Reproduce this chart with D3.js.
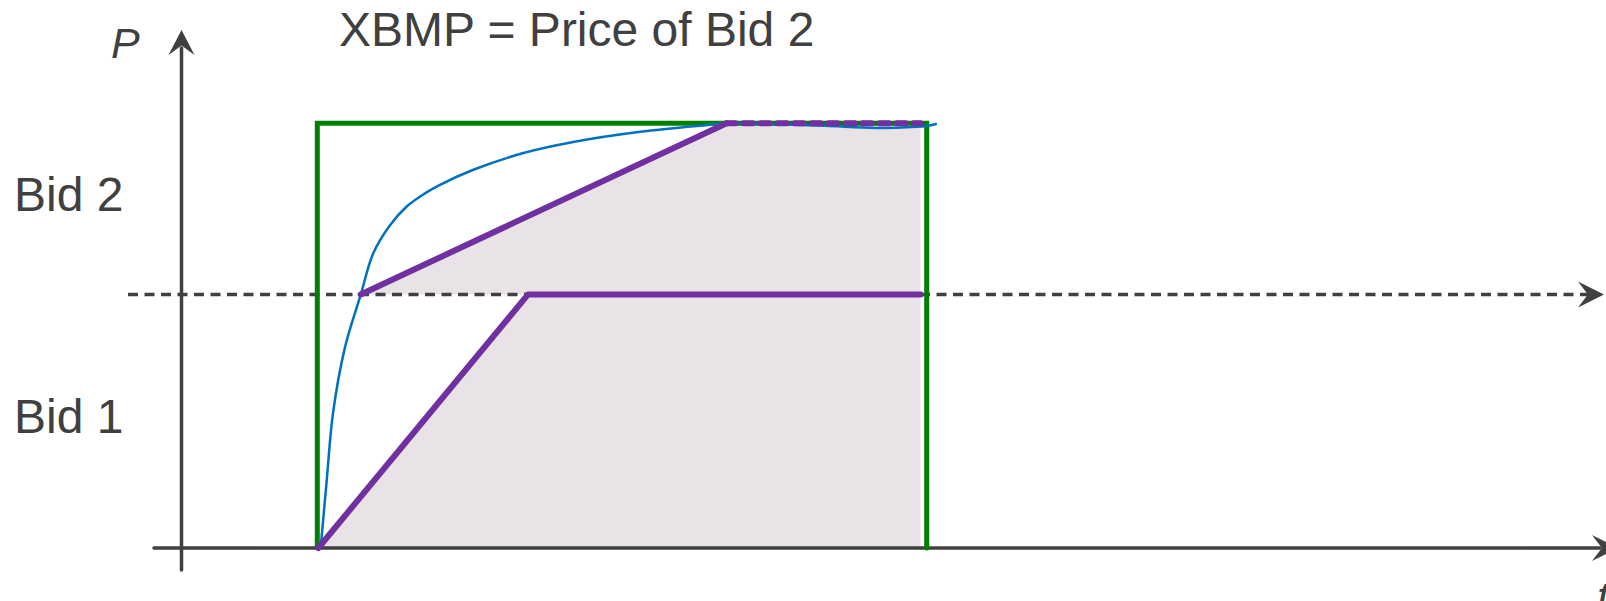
<!DOCTYPE html>
<html>
<head>
<meta charset="utf-8">
<script src="https://cdn.jsdelivr.net/npm/d3@7"></script>
<style>
    body { margin: 0; background: #fff; }
    text { font-family: 'Liberation Sans', Arial, sans-serif; fill: #404040; }
</style>
</head>
<body>
<svg id="chart"></svg>
<script>
//bid names and price levels (P units, Bid 2 = 100)
var bidNames = ['Bid 1', 'Bid 2'];
var bidPrices = [59.7, 100];

//dispatch interval (t units)
var intervalStart = 0;
var intervalEnd = 60;

//green square wave of the interval
var intervalLine = [[0, 0], [0, 100], [60, 100], [60, 0]];

//purple ramps of each bid
var bid1Line = [[0.1, 0], [20.75, 59.7], [59.4, 59.7]];
var bid2Line = [[4.27, 59.7], [40.3, 100]];
var bid2Flat = [[40.3, 100], [59.4, 100]];

//blue price curve
var priceCurve = [
    [0.33, 0], [0.93, 16], [1.55, 31.8], [2.73, 47.3], [4.27, 59.6],
    [5.51, 69.4], [7.16, 76.0], [8.80, 80.4], [10.4, 83.2], [12.08, 85.5],
    [15.3, 89.0], [20.3, 93.0], [25.2, 95.6], [31.8, 98.0], [38.4, 99.6],
    [40.3, 100], [45, 99.8], [50, 99.4], [55, 98.9], [58.5, 99.1],
    [60.3, 99.5], [61, 99.9]
];

var titleText = 'XBMP = Price of Bid 2';

var width = 1606,
    height = 601;

var svg = d3.select('#chart')
    .attr('width', width)
    .attr('height', height);

var x = d3.scaleLinear()
    .domain([intervalStart, intervalEnd])
    .range([317.3, 926.7]);

var y = d3.scaleLinear()
    .domain([0, 100])
    .range([548, 123.3]);

var axisColor = '#404040';
var yAxisX = 181.5;

//stealth arrow head pointing along angle (radians), tip at (tx, ty)
function arrowHead(tx, ty, angle, len, wid) {
    var c = Math.cos(angle), s = Math.sin(angle);
    function pt(a, b) {
        return [tx + a * c - b * s, ty + a * s + b * c];
    }
    var p = [pt(0, 0), pt(-len, -wid / 2), pt(-len * 0.62, 0), pt(-len, wid / 2)];
    return 'M' + p.map(function(d) {return d.join(',');}).join('L') + 'Z';
}

//shaded cleared area
var areaGen = d3.area()
    .x(function(d) {return x(d[0]);})
    .y1(function(d) {return y(d[1]);});

svg.append('path')
    .datum(bid1Line)
    .attr('d', areaGen.y0(y(0)))
    .attr('fill', '#e9e3e8');

svg.append('path')
    .datum(bid2Line.concat(bid2Flat.slice(1)))
    .attr('d', areaGen.y0(y(bidPrices[0])))
    .attr('fill', '#e9e3e8');

//axes
svg.append('line')
    .attr('x1', 154)
    .attr('x2', 1600)
    .attr('y1', y(0))
    .attr('y2', y(0))
    .attr('stroke', axisColor)
    .attr('stroke-width', 3.5)
    .attr('stroke-linecap', 'round');
svg.append('path')
    .attr('d', arrowHead(1618, y(0), 0, 26, 26))
    .attr('fill', axisColor);

svg.append('line')
    .attr('x1', yAxisX)
    .attr('x2', yAxisX)
    .attr('y1', 570)
    .attr('y2', 48)
    .attr('stroke', axisColor)
    .attr('stroke-width', 3.5)
    .attr('stroke-linecap', 'round');
svg.append('path')
    .attr('d', arrowHead(yAxisX, 30, -Math.PI / 2, 25, 26))
    .attr('fill', axisColor);

//dashed Bid 1 price level
svg.append('line')
    .attr('x1', 128)
    .attr('x2', 1588)
    .attr('y1', y(bidPrices[0]))
    .attr('y2', y(bidPrices[0]))
    .attr('stroke', axisColor)
    .attr('stroke-width', 3.5)
    .attr('stroke-dasharray', '10,6.5');
svg.append('path')
    .attr('d', arrowHead(1604, y(bidPrices[0]), 0, 26, 26))
    .attr('fill', axisColor);

var lineGen = d3.line()
    .x(function(d) {return x(d[0]);})
    .y(function(d) {return y(d[1]);});

//green interval
svg.append('path')
    .datum(intervalLine)
    .attr('d', lineGen)
    .attr('fill', 'none')
    .attr('stroke', '#008000')
    .attr('stroke-width', 5)
    .attr('stroke-linecap', 'round');

//blue price curve
svg.append('path')
    .datum(priceCurve)
    .attr('d', lineGen.curve(d3.curveCatmullRom.alpha(0.5)))
    .attr('fill', 'none')
    .attr('stroke', '#0070c0')
    .attr('stroke-width', 2.5);
lineGen.curve(d3.curveLinear);

//purple bids
[bid1Line, bid2Line].forEach(function(b) {
    svg.append('path')
        .datum(b)
        .attr('d', lineGen)
        .attr('fill', 'none')
        .attr('stroke', '#7030a0')
        .attr('stroke-width', 6)
        .attr('stroke-linecap', 'round')
        .attr('stroke-linejoin', 'round');
});
svg.append('path')
    .datum(bid2Flat)
    .attr('d', lineGen)
    .attr('fill', 'none')
    .attr('stroke', '#7030a0')
    .attr('stroke-width', 6)
    .attr('stroke-linecap', 'round')
    .attr('stroke-dasharray', '9,8');

//texts
svg.append('text')
    .attr('x', 339)
    .attr('y', 46)
    .attr('font-size', '48px')
    .text(titleText);

svg.append('text')
    .attr('x', 111)
    .attr('y', 58)
    .attr('font-size', '43px')
    .attr('font-style', 'italic')
    .text('P');

svg.append('text')
    .attr('x', 1597)
    .attr('y', 612)
    .attr('font-size', '43px')
    .attr('font-style', 'italic')
    .text('t');

var labelBaselines = [433.3, 210.7];
bidNames.forEach(function(name, i) {
    svg.append('text')
        .attr('x', 14)
        .attr('y', labelBaselines[i])
        .attr('font-size', '48px')
        .text(name);
});
</script>
</body>
</html>
